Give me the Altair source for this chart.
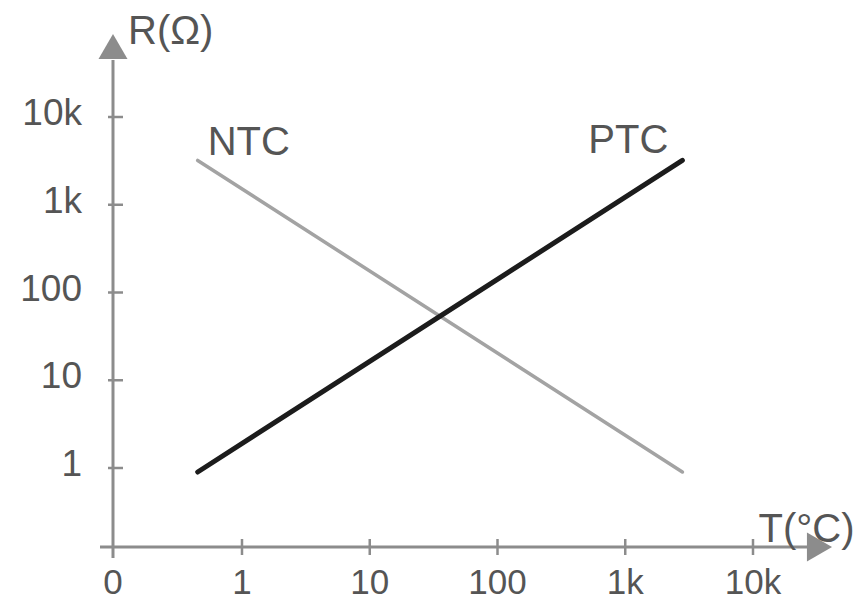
import altair as alt
import pandas as pd

# ---------------- data ----------------
series_names = ["NTC", "PTC"]
ntc_temp = [0.45, 2800]
ntc_res = [3200, 0.9]
ptc_temp = [0.45, 2800]
ptc_res = [0.9, 3200]

x_tick_values = [1, 10, 100, 1000, 10000]
x_tick_labels = ["1", "10", "100", "1k", "10k"]
y_tick_values = [1, 10, 100, 1000, 10000]
y_tick_labels = ["1", "10", "100", "1k", "10k"]
origin_label = "0"
x_title = "T(°C)"
y_title = "R(Ω)"

# ---------------- layout (in decades, log10 units) ----------------
W, H = 848, 594
X_DEC = [-1.8317, 4.8063]
Y_DEC = [-1.5271, 5.2422]
ORIGIN_X_DEC = -1.0098
ORIGIN_Y_DEC = -0.9003
XAXIS_DEC = [-1.1115, 4.4305]
YAXIS_DEC = [-1.0256, 4.6496]
XARROW_DEC = 4.5205
YARROW_DEC = 4.8034

AXIS_COLOR = "#8c8c8c"
TEXT_COLOR = "#555555"
FONT = "Liberation Sans"


def p(d):
    return 10 ** d


xs = alt.Scale(type="log", domain=[p(X_DEC[0]), p(X_DEC[1])], nice=False)
ys = alt.Scale(type="log", domain=[p(Y_DEC[0]), p(Y_DEC[1])], nice=False)


def X(field):
    return alt.X(field, type="quantitative", scale=xs, axis=None)


def Y(field):
    return alt.Y(field, type="quantitative", scale=ys, axis=None)


ox, oy = p(ORIGIN_X_DEC), p(ORIGIN_Y_DEC)

# axis lines
axes_df = pd.DataFrame({
    "x": [p(XAXIS_DEC[0]), ox],
    "x2": [p(XAXIS_DEC[1]), ox],
    "y": [oy, p(YAXIS_DEC[0])],
    "y2": [oy, p(YAXIS_DEC[1])],
})
axes = alt.Chart(axes_df).mark_rule(color=AXIS_COLOR, strokeWidth=3).encode(
    x=X("x"), x2="x2", y=Y("y"), y2="y2"
)

# arrow heads
arrows_df = pd.DataFrame({
    "x": [p(XARROW_DEC), ox],
    "y": [oy, p(YARROW_DEC)],
    "shape": ["triangle-right", "triangle-up"],
})
arrows = alt.Chart(arrows_df).mark_point(
    filled=True, size=840, opacity=1, color=AXIS_COLOR
).encode(x=X("x"), y=Y("y"), shape=alt.Shape("shape:N", scale=None, legend=None))

# ticks
xt_df = pd.DataFrame({"x": x_tick_values, "y": [oy] * len(x_tick_values)})
xticks = alt.Chart(xt_df).mark_tick(
    orient="vertical", size=16, thickness=2.5, color=AXIS_COLOR, opacity=1
).encode(x=X("x"), y=Y("y"))

yt_df = pd.DataFrame({"x": [ox] * len(y_tick_values), "y": y_tick_values})
yticks = alt.Chart(yt_df).mark_tick(
    orient="horizontal", size=15, thickness=2.5, color=AXIS_COLOR, opacity=1, xOffset=2.5
).encode(x=X("x"), y=Y("y"))

# tick labels
xl_df = pd.DataFrame({
    "x": [ox] + x_tick_values,
    "y": [oy] * (len(x_tick_values) + 1),
    "text": [origin_label] + x_tick_labels,
})
xlabels = alt.Chart(xl_df).mark_text(
    align="center", baseline="middle", dy=36, fontSize=35, font=FONT, color=TEXT_COLOR
).encode(x=X("x"), y=Y("y"), text="text:N")

yl_df = pd.DataFrame({
    "x": [ox] * len(y_tick_values),
    "y": y_tick_values,
    "text": y_tick_labels,
})
ylabels = alt.Chart(yl_df).mark_text(
    align="right", baseline="middle", dx=-31, dy=-3, fontSize=37, font=FONT, color=TEXT_COLOR
).encode(x=X("x"), y=Y("y"), text="text:N")

# curves
lines_df = pd.DataFrame({
    "T": ntc_temp + ptc_temp,
    "R": ntc_res + ptc_res,
    "series": [series_names[0]] * len(ntc_temp) + [series_names[1]] * len(ptc_temp),
})
lines = alt.Chart(lines_df).mark_line(strokeCap="round").encode(
    x=X("T"),
    y=Y("R"),
    detail="series:N",
    color=alt.Color("series:N", scale=alt.Scale(domain=series_names, range=["#a3a3a3", "#1c1c1c"]), legend=None),
    strokeWidth=alt.StrokeWidth("series:N", scale=alt.Scale(domain=series_names, range=[3.5, 5]), legend=None),
)

# series labels
ntc_lab = alt.Chart(pd.DataFrame({"x": [ntc_temp[0]], "y": [ntc_res[0]], "text": [series_names[0]]})).mark_text(
    align="left", baseline="middle", dx=10, dy=-17, fontSize=40, font=FONT, color=TEXT_COLOR
).encode(x=X("x"), y=Y("y"), text="text:N")
ptc_lab = alt.Chart(pd.DataFrame({"x": [ptc_temp[-1]], "y": [ptc_res[-1]], "text": [series_names[1]]})).mark_text(
    align="right", baseline="middle", dx=-14, dy=-19, fontSize=40, font=FONT, color=TEXT_COLOR
).encode(x=X("x"), y=Y("y"), text="text:N")

# axis titles
ytitle = alt.Chart(pd.DataFrame({"x": [ox], "y": [p(YARROW_DEC)], "text": [y_title]})).mark_text(
    align="left", baseline="middle", dx=15, dy=-15, fontSize=40, font=FONT, color=TEXT_COLOR
).encode(x=X("x"), y=Y("y"), text="text:N")
xtitle = alt.Chart(pd.DataFrame({"x": [p(XARROW_DEC)], "y": [oy], "text": [x_title]})).mark_text(
    align="right", baseline="middle", dx=35, dy=-17, fontSize=40, font=FONT, color=TEXT_COLOR
).encode(x=X("x"), y=Y("y"), text="text:N")

chart = alt.layer(
    axes, arrows, xticks, yticks, xlabels, ylabels, lines, ntc_lab, ptc_lab, ytitle, xtitle
).properties(
    width=W, height=H, padding=0, autosize=alt.AutoSizeParams(type="none"), background="white"
).configure_view(stroke=None)

chart.save("out.html", embed_options={"renderer": "svg", "actions": False})
